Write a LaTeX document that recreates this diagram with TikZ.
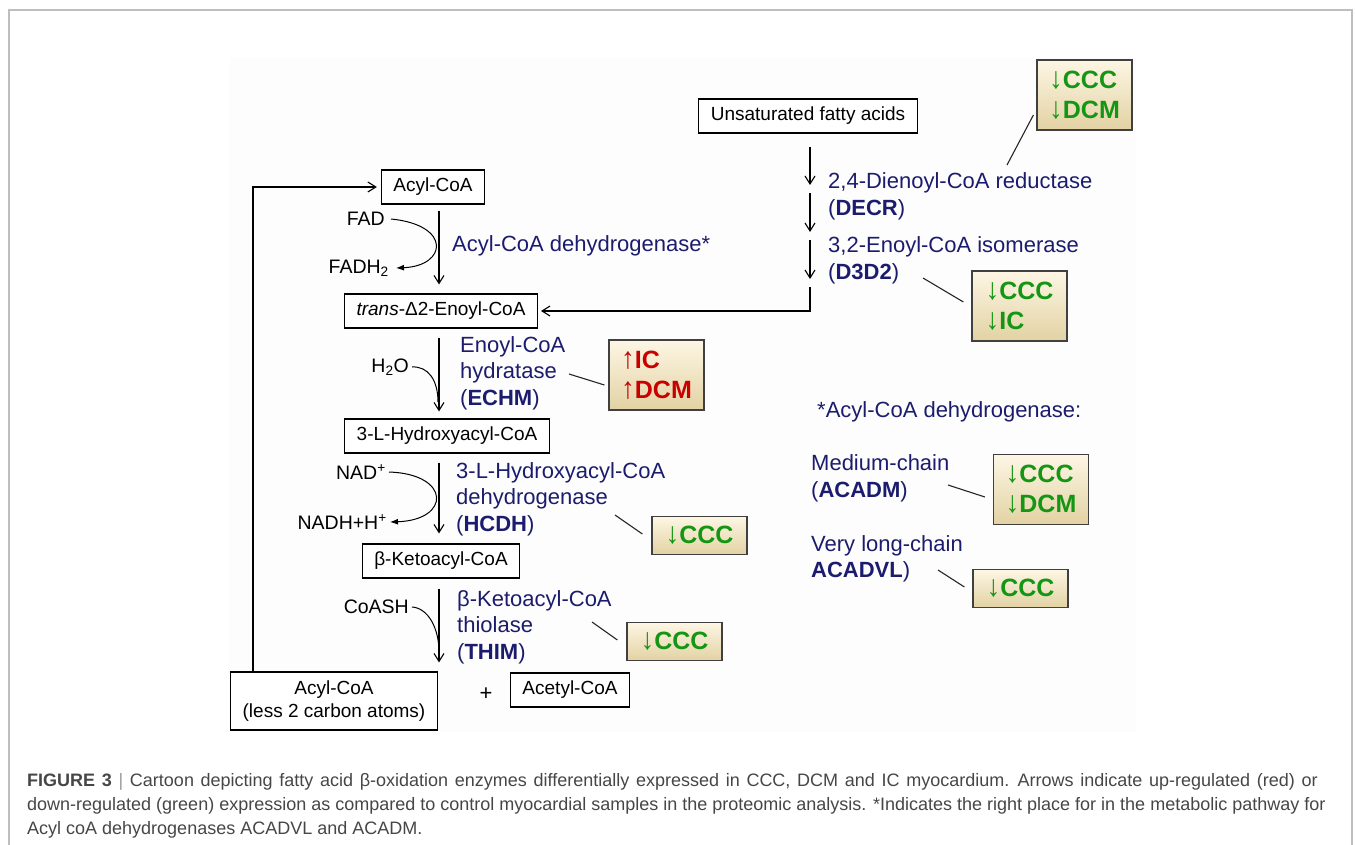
\documentclass[tikz,border=0pt]{standalone}
\usepackage{fontspec}
\setmainfont{Liberation Sans}
\usetikzlibrary{arrows.meta,calc}
\definecolor{navy}{RGB}{28,28,110}
\definecolor{dgreen}{RGB}{20,150,20}
\definecolor{dred}{RGB}{200,0,0}
\definecolor{framegray}{RGB}{190,190,190}
\definecolor{capgray}{RGB}{70,70,70}
\definecolor{creamtop}{RGB}{253,246,228}
\definecolor{creambot}{RGB}{226,210,163}
\newcommand{\dn}{\scalebox{1.1}[1.2]{↓}}
\newcommand{\up}{\scalebox{1.1}[1.2]{↑}}
\begin{document}
\begin{tikzpicture}[x=1pt,y=-1pt,
  every node/.style={inner sep=0pt},
  chem/.style={draw, line width=1.1pt, inner xsep=12pt, minimum height=34pt, font=\fontsize{19}{23}\selectfont, fill=white},
  enz/.style={anchor=west, align=left, text=navy, font=\fontsize{22}{26.5}\selectfont},
  cof/.style={anchor=east, font=\fontsize{19.5}{22}\selectfont},
  badge/.style={draw=black!75, line width=1.2pt, top color=creamtop, bottom color=creambot, minimum width=95pt, align=left, font=\fontsize{25}{30}\bfseries\selectfont},
  badgetwo/.style={badge, minimum height=70pt},
  badgeone/.style={badge, minimum height=38pt},
  flow/.style={line width=1.1pt, -{Straight Barb[length=8pt,width=10pt]}},
  cofarr/.style={line width=1pt, -{Latex[length=8pt,width=6pt]}},
  cofjoin/.style={line width=1pt},
  tie/.style={line width=1.1pt, draw=black!85},
  captext/.style={anchor=west, text=capgray, font=\fontsize{18}{21}\selectfont},
]
\useasboundingbox (0,0) rectangle (1355,845);
% frame and faint panel
\draw[framegray, line width=1.5pt] (9,845) -- (9,10) -- (1352,10) -- (1352,845);
\fill[black!0.7] (229,57) rectangle (1136,732);

% metabolite boxes
\node[chem] (acyl) at (433,187) {Acyl-CoA};
\node[chem] (enoyl) at (441,311) {\textit{trans}-Δ2-Enoyl-CoA};
\node[chem] (hydroxy) at (447,436) {3-L-Hydroxyacyl-CoA};
\node[chem] (keto) at (441,561) {β-Ketoacyl-CoA};
\node[chem, align=center, minimum height=58pt] (acyl2) at (334,701) {Acyl-CoA\\(less 2 carbon atoms)};
\node[chem] (acetyl) at (570,690) {Acetyl-CoA};
\node[font=\fontsize{22}{26}\selectfont] (plus) at (486,694) {+};
\node[chem] (unsat) at (808,116) {Unsaturated fatty acids};

% cofactors
\node[cof] (fad) at (385,219) {FAD};
\node[cof] (fadh) at (389,268) {FADH\textsubscript{2}};
\node[cof] (h2o) at (409,367) {H\textsubscript{2}O};
\node[cof] (nad) at (386,472) {NAD\textsuperscript{+}};
\node[cof] (nadh) at (387,522) {NADH+H\textsuperscript{+}};
\node[cof] (coash) at (409,607) {CoASH};

% main axis arrows
\coordinate (ax) at (439,0);
\draw[flow, shorten <=6pt, shorten >=9pt] (acyl.south -| ax) -- (enoyl.north -| ax);
\draw[flow, shorten <=9pt, shorten >=7pt] (enoyl.south -| ax) -- (hydroxy.north -| ax);
\draw[flow, shorten <=9pt, shorten >=10pt] (hydroxy.south -| ax) -- (keto.north -| ax);
\draw[flow, shorten <=10pt, shorten >=9pt] (keto.south -| ax) -- (acyl2.north -| ax);

% cofactor curves
\draw[cofarr] ([xshift=6pt]fad.east) .. controls (452,225) and (447,266) .. ([xshift=7pt]fadh.east);
\draw[cofjoin] ([xshift=3pt]h2o.east) .. controls (428,366) and (438,380) .. (438,402);
\draw[cofarr] ([xshift=3pt]nad.east) .. controls (451,474) and (451,520) .. ([xshift=3pt]nadh.east);
\draw[cofjoin] ([xshift=3pt]coash.east) .. controls (428,608) and (439,628) .. (439,652);

% loop back
\coordinate (lx) at (253,0);
\draw[flow, shorten >=4pt] (acyl2.north -| lx) |- (acyl.west);

% unsaturated branch
\coordinate (r1) at (810,147);
\coordinate (r1e) at (810,185);
\coordinate (r2) at (810,193);
\coordinate (r2e) at (810,232);
\coordinate (r3) at (810,240);
\coordinate (r3e) at (810,279);
\coordinate (r4) at (810,287);
\draw[flow] (r1) -- (r1e);
\draw[flow] (r2) -- (r2e);
\draw[flow] (r3) -- (r3e);
\draw[flow, shorten >=3pt] (r4) |- (enoyl.east);

% enzyme labels
\node[enz] (acd) at (452,246) {Acyl-CoA dehydrogenase*};
\node[enz] (echm) at (460,373) {Enoyl-CoA\\hydratase\\(\textbf{ECHM})};
\node[enz] (hcdh) at (456,499) {3-L-Hydroxyacyl-CoA\\dehydrogenase\\(\textbf{HCDH})};
\node[enz] (thim) at (457,627) {β-Ketoacyl-CoA\\thiolase\\(\textbf{THIM})};
\node[enz] (decr) at (828,196.5) {2,4-Dienoyl-CoA reductase\\(\textbf{DECR})};
\node[enz] (d3d2) at (828,260.5) {3,2-Enoyl-CoA isomerase\\(\textbf{D3D2})};
\node[enz] (star) at (817,412) {*Acyl-CoA dehydrogenase:};
\node[enz] (acadm) at (811,478.5) {Medium-chain\\(\textbf{ACADM})};
\node[enz] (acadvl) at (811,559) {Very long-chain\\\textbf{ACADVL})};

% badges
\node[badgetwo, text=dgreen] (bDECR) at (1084.5,95) {\dn CCC\\\dn DCM};
\node[badgetwo, text=dgreen] (bD3D2) at (1019.5,306) {\dn CCC\\\dn IC};
\node[badgetwo, text=dred] (bECHM) at (656.5,375) {\up IC\\\up DCM};
\node[badgeone, text=dgreen] (bHCDH) at (699.5,535.5) {\dn CCC};
\node[badgeone, text=dgreen] (bTHIM) at (674.5,641.5) {\dn CCC};
\node[badgetwo, text=dgreen] (bACADM) at (1041,489.5) {\dn CCC\\\dn DCM};
\node[badgeone, text=dgreen] (bACADVL) at (1020.5,588.5) {\dn CCC};

% ties
\coordinate (t1) at (1007,165);
\coordinate (t2) at (923,278);
\coordinate (t3) at (569,374);
\coordinate (t4) at (615,515);
\coordinate (t5) at (592,622);
\coordinate (t6) at (948,485);
\coordinate (t7) at (938,570);
\draw[tie] (t1) -- ([shift={(-3,20)}]bDECR.west);
\draw[tie] (t2) -- ([shift={(-8,-4)}]bD3D2.west);
\draw[tie] (t3) -- ([shift={(-4,10)}]bECHM.west);
\draw[tie] (t4) -- ([shift={(-9,-1.5)}]bHCDH.west);
\draw[tie] (t5) -- ([shift={(-9,-1.5)}]bTHIM.west);
\draw[tie] (t6) -- ([shift={(-8,7.5)}]bACADM.west);
\draw[tie] (t7) -- ([shift={(-8,-1.5)}]bACADVL.west);

% caption
\node[captext] (cap1) at (27,782) {\spaceskip=6.7pt plus 1pt\textbf{FIGURE 3} {\color{black!40}|} Cartoon depicting fatty acid β-oxidation enzymes differentially expressed in CCC, DCM and IC myocardium. Arrows indicate up-regulated (red) or};
\node[captext] (cap2) at (27,806) {down-regulated (green) expression as compared to control myocardial samples in the proteomic analysis. *Indicates the right place for in the metabolic pathway for};
\node[captext] (cap3) at (27,830) {Acyl coA dehydrogenases ACADVL and ACADM.};
\end{tikzpicture}
\end{document}
